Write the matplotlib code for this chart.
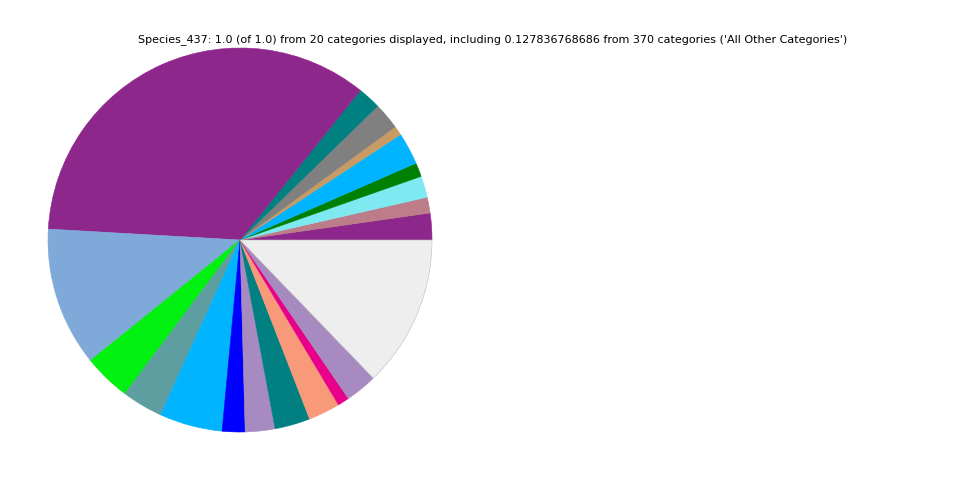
import matplotlib
matplotlib.use('Agg')
import matplotlib.pyplot as plt

# fraction of each category, counterclockwise from 3 o'clock
shares = [0.0225, 0.0133, 0.0180, 0.0117, 0.0270, 0.0078, 0.0225, 0.0194,
          0.3486, 0.1170, 0.0397, 0.0344, 0.0530, 0.0192, 0.0250, 0.0297,
          0.0267, 0.0097, 0.0267, 0.1278]
colors = ['#8E278B', '#BC7C8A', '#7FE9F2', '#008000', '#00B4FF', '#C89B64',
          '#808080', '#008080', '#8E278B', '#7FA9D9', '#00F010', '#5F9EA0',
          '#00B4FF', '#0000FF', '#A68AC0', '#008080', '#F89A7A', '#E8008A',
          '#A68AC0', '#EEEEEE']
title = ("Species_437: 1.0 (of 1.0) from 20 categories displayed, including "
         "0.127836768686 from 370 categories ('All Other Categories')")

fig = plt.figure(figsize=(9.6, 4.8), dpi=100)
ax = fig.add_axes([48 / 960, 48 / 480, 384 / 960, 384 / 480])
wedges, _ = ax.pie(shares, colors=colors, startangle=0, counterclock=True,
                   wedgeprops={'linewidth': 0.4, 'edgecolor': '#BBBBBB'})
for w, c in zip(wedges, colors):
    if c != '#EEEEEE':
        w.set_edgecolor(c)
ax.set_xlim(-1, 1)
ax.set_ylim(-1, 1)
ax.set_aspect('equal')
ax.axis('off')

fig.text(493 / 960, 1 - 40 / 480, title, ha='center', va='center', fontsize=8)

fig.savefig('out.png', dpi=100)
